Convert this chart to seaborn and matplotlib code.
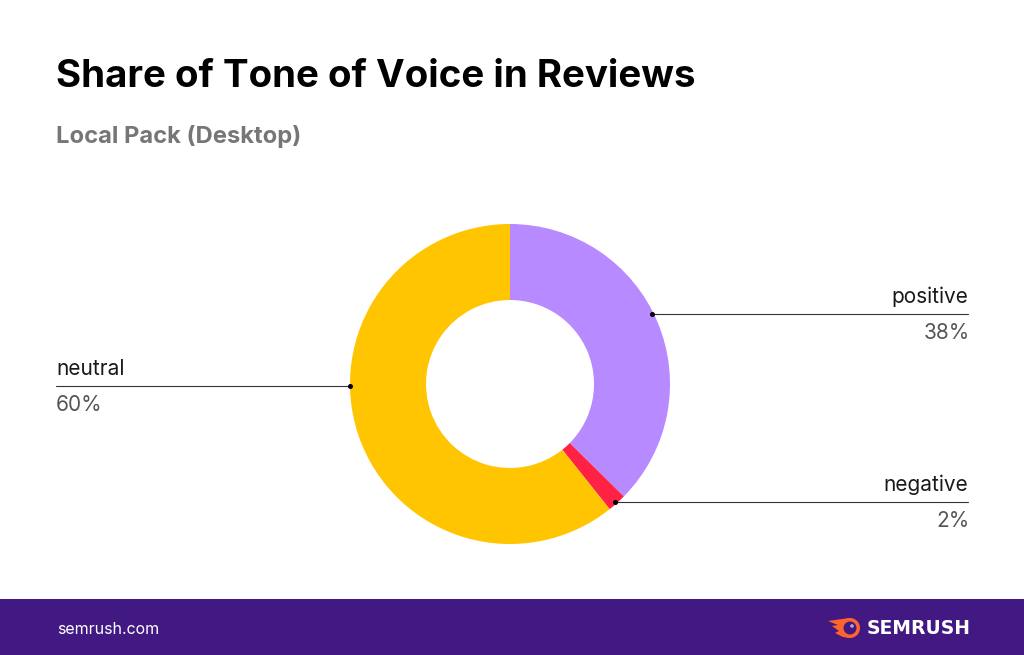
import matplotlib
matplotlib.use('Agg')
import matplotlib.pyplot as plt
import seaborn as sns
from matplotlib.patches import Rectangle, Circle, Polygon

labels = ['positive', 'negative', 'neutral']
shares = [37.4, 1.9, 60.7]
pct_labels = ['38%', '2%', '60%']
colors = ['#B78AFF', '#FF2244', '#FFC500']

sns.set_theme(style='white')
plt.rcParams['font.family'] = ['Inter', 'DejaVu Sans']

fig = plt.figure(figsize=(10.24, 6.55), dpi=100)
bg = fig.add_axes([0, 0, 1, 1])
bg.set_xlim(0, 1024)
bg.set_ylim(655, 0)
bg.axis('off')

# footer band
bg.add_patch(Rectangle((0, 599), 1024, 56, color='#421983', lw=0))
bg.text(57, 630, 'semrush.com', color='white', fontsize=11.5, va='center')
bg.text(971, 628, 'SEMRUSH', color='white', fontsize=13.5, fontweight='bold', family='DejaVu Sans',
        va='center', ha='right')

# logo: comet with a tail
orange = '#FF642D'
bg.add_patch(Polygon([(828, 621), (842, 619), (850, 618), (850, 638), (843, 637), (835, 633),
                      (839, 631), (832, 626), (838, 625)], color=orange, lw=0))
bg.add_patch(Circle((850, 628), 10, color=orange, lw=0))
bg.add_patch(Circle((850, 628), 6.5, color='#421983', lw=0))
bg.add_patch(Circle((852, 626), 1.8, color='#B9A3D8', lw=0))

bg.text(56, 77, 'Share of Tone of Voice in Reviews', fontsize=27.7, fontweight='bold', color='black', va='center')
bg.text(56, 137, 'Local Pack (Desktop)', fontsize=17.1, fontweight='bold', color='#767676', va='center')

# donut
cx, cy, r = 510, 384, 160
ax = fig.add_axes([(cx - r) / 1024, 1 - (cy + r) / 655, 2 * r / 1024, 2 * r / 655])
ax.pie(shares, colors=colors, startangle=90, counterclock=False, radius=1,
       wedgeprops=dict(width=1 - 84 / 160, linewidth=0))
ax.set_xlim(-1, 1)
ax.set_ylim(-1, 1)
ax.set_aspect('equal')

# leader lines: (dot x, line y, far x, text x, ha)
leaders = [(652, 314, 968, 968, 'right'), (615, 502, 968, 968, 'right'), (350, 386, 56, 56, 'left')]
for (dx, ly, fx, tx, ha), name, pct in zip(leaders, labels, pct_labels):
    bg.plot([dx, fx], [ly, ly], color='#333333', lw=0.8)
    bg.text(tx, ly - 17, name, fontsize=15, color='#1a1a1a', ha=ha, va='center')
    pct_x = tx + 2 if ha == 'right' else tx
    bg.text(pct_x, ly + 19, pct, fontsize=15, color='#555555', ha=ha, va='center')

dots = fig.add_axes([0, 0, 1, 1], facecolor='none')
dots.set_xlim(0, 1024)
dots.set_ylim(655, 0)
dots.axis('off')
for dx, ly, fx, tx, ha in leaders:
    dots.plot(dx, ly, 'o', color='black', ms=2.6)

fig.savefig('out.png', dpi=100)
